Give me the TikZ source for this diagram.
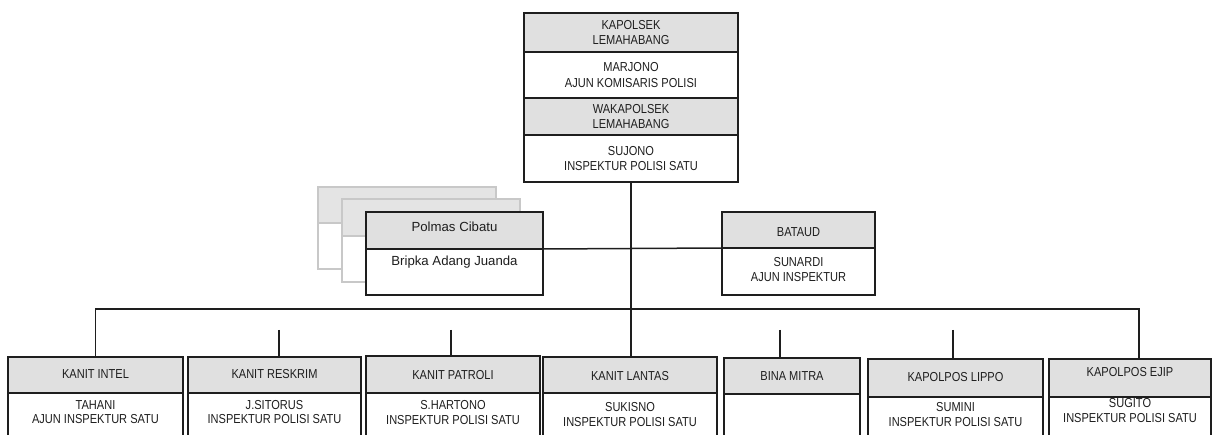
\documentclass[tikz,border=0pt]{standalone}
\usepackage{fontspec}
\setmainfont{Liberation Sans}
\newfontfamily\narrowfont{Liberation Sans}[FakeStretch=0.85]
\definecolor{hdrgray}{RGB}{224,224,224}
\definecolor{linec}{RGB}{30,30,30}
\definecolor{shadowc}{RGB}{200,200,200}
\definecolor{shadowfill}{RGB}{228,228,228}
\definecolor{textc}{RGB}{30,30,30}
\newcommand\orgpart[7]{%
  \node[#1, minimum width={#4-#3}, minimum height={#6-#5}] (#2) at (#3,#5) {#7};}
\begin{document}
\begin{tikzpicture}[x=1pt,y=-1pt,
  base/.style={line width=1.5pt, inner sep=0pt, outer sep=0pt, anchor=north west,
    align=center, text=textc, font=\narrowfont\fontsize{13}{15.5}\selectfont},
  hdr/.style={base, draw=linec, fill=hdrgray},
  bdy/.style={base, draw=linec, fill=white},
  shdh/.style={base, draw=shadowc, fill=shadowfill},
  shdb/.style={base, draw=shadowc, fill=white},
  txt/.style={inner sep=0pt, align=center, text=textc, font=\narrowfont\fontsize{13}{14.5}\selectfont},
  ptxt/.style={inner sep=0pt, align=center, text=textc, font=\fontsize{13.2}{15}\selectfont},
  conn/.style={draw=linec, line width=1.5pt},
  stub/.style={draw=linec, line width=1.3pt}]
\useasboundingbox (0,0) rectangle (1213,435);

% top box
\orgpart{hdr}{kapolsek}{524}{738}{13}{52}{KAPOLSEK\\LEMAHABANG}
\orgpart{bdy}{marjono}{524}{738}{52}{98}{MARJONO\\AJUN KOMISARIS POLISI}
\orgpart{hdr}{waka}{524}{738}{98}{135}{WAKAPOLSEK\\LEMAHABANG}
\orgpart{bdy}{sujono}{524}{738}{135}{182}{SUJONO\\INSPEKTUR POLISI SATU}

% connectors
\coordinate (barc) at (631,309);
\coordinate (ejipin) at (1139,359);
\draw[conn] (sujono.south) -- (sujono.south |- 0,357);

% polmas shadows
\orgpart{shdh}{sh1-h}{318}{496}{187}{223}{}
\orgpart{shdb}{sh1-b}{318}{496}{223}{269}{}
\orgpart{shdh}{sh2-h}{342}{520}{199}{236}{}
\orgpart{shdb}{sh2-b}{342}{520}{236}{282}{}

% polmas
\orgpart{hdr}{polmas-h}{366}{543}{212}{249}{}
\orgpart{bdy}{polmas-b}{366}{543}{249}{295}{}
\node[ptxt] (polmas-t) at (454.5,227) {Polmas Cibatu};
\node[ptxt] (bripka-t) at (454.5,262) {Bripka Adang Juanda};

% bataud
\orgpart{hdr}{bataud-h}{722}{875}{212}{248}{}
\orgpart{bdy}{bataud-b}{722}{875}{248}{295}{}
\node[txt] (bataud-t) at (798.5,232) {BATAUD};
\node[txt] (sunardi-t) at (798.5,269.5) {SUNARDI\\AJUN INSPEKTUR};

\draw[conn] (polmas-h.south east) -- (bataud-h.south west);

% bottom row
\orgpart{hdr}{intel-h}{8}{183}{357}{393}{}
\orgpart{bdy}{intel-b}{8}{183}{393}{450}{}
\orgpart{hdr}{reskrim-h}{188}{361}{357}{393}{}
\orgpart{bdy}{reskrim-b}{188}{361}{393}{450}{}
\orgpart{hdr}{patroli-h}{366}{540}{356}{393}{}
\orgpart{bdy}{patroli-b}{366}{540}{393}{450}{}
\orgpart{hdr}{lantas-h}{543}{717}{357}{393}{}
\orgpart{bdy}{lantas-b}{543}{717}{393}{450}{}
\orgpart{hdr}{bina-h}{724}{860}{358}{394}{}
\orgpart{bdy}{bina-b}{724}{860}{394}{450}{}
\orgpart{hdr}{lippo-h}{868}{1043}{359}{397}{}
\orgpart{bdy}{lippo-b}{868}{1043}{397}{450}{}
\orgpart{hdr}{ejip-h}{1049}{1211}{359}{397}{}
\orgpart{bdy}{ejip-b}{1049}{1211}{397}{450}{}

\node[txt] (intel-t) at (95.5,374) {KANIT INTEL};
\node[txt] (tahani-t) at (95.5,412) {TAHANI\\AJUN INSPEKTUR SATU};
\node[txt] (reskrim-t) at (274.5,374) {KANIT RESKRIM};
\node[txt] (sitorus-t) at (274.5,412) {J.SITORUS\\INSPEKTUR POLISI SATU};
\node[txt] (patroli-t) at (453,375) {KANIT PATROLI};
\node[txt] (hartono-t) at (453,412.5) {S.HARTONO\\INSPEKTUR POLISI SATU};
\node[txt] (lantas-t) at (630,376) {KANIT LANTAS};
\node[txt] (sukisno-t) at (630,414.5) {SUKISNO\\INSPEKTUR POLISI SATU};
\node[txt] (bina-t) at (792,376) {BINA MITRA};
\node[txt] (lippo-t) at (955.5,377) {KAPOLPOS LIPPO};
\node[txt] (sumini-t) at (955.5,414.5) {SUMINI\\INSPEKTUR POLISI SATU};
\node[txt] (ejip-t) at (1130,372) {KAPOLPOS EJIP};
\node[txt] (sugito-t) at (1130,410.5) {SUGITO\\INSPEKTUR POLISI SATU};

% bar and stubs
\draw[conn] (intel-h.north) |- (barc) -| (ejipin);
\coordinate (s-reskrim) at (279,330);
\coordinate (s-patroli) at (451,330);
\coordinate (s-bina) at (780,330);
\coordinate (s-lippo) at (953,330);
\draw[stub] (s-reskrim) -- (s-reskrim |- reskrim-h.north);
\draw[stub] (s-patroli) -- (s-patroli |- patroli-h.north);
\draw[stub] (s-bina) -- (s-bina |- bina-h.north);
\draw[stub] (s-lippo) -- (s-lippo |- lippo-h.north);
\end{tikzpicture}
\end{document}
